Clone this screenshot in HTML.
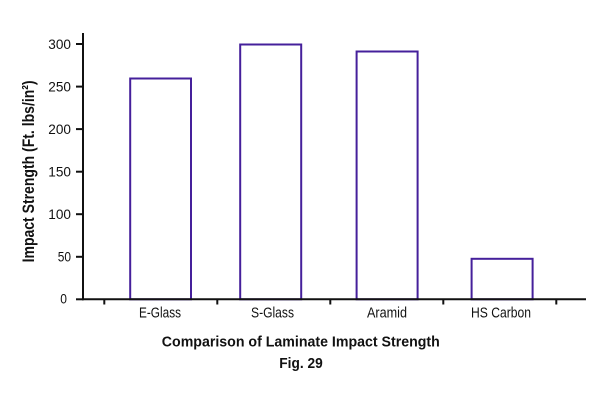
<!DOCTYPE html>
<html>
<head>
<meta charset="utf-8">
<style>
  html, body { margin: 0; padding: 0; background: #ffffff; }
  body { width: 600px; height: 400px; overflow: hidden; }
  svg { display: block; }
  text { font-family: "Liberation Sans", "DejaVu Sans", sans-serif; fill: #111; }
</style>
</head>
<body>
<svg width="600" height="400" viewBox="0 0 600 400" xmlns="http://www.w3.org/2000/svg">
  <rect x="0" y="0" width="600" height="400" fill="#ffffff"/>

  <!-- Bars -->
  <g fill="#ffffff" stroke="#45209b" stroke-width="2">
    <rect x="130.2" y="78.5" width="60.8" height="220.8"/>
    <rect x="240.2" y="44.5" width="61" height="254.8"/>
    <rect x="356.6" y="51.5" width="61" height="247.8"/>
    <rect x="471.6" y="258.8" width="61" height="40.5"/>
  </g>

  <!-- Axes -->
  <g stroke="#111" stroke-width="2" fill="none">
    <line x1="83" y1="33" x2="83" y2="300.3"/>
    <line x1="82" y1="299.3" x2="586" y2="299.3"/>
    <!-- y ticks -->
    <line x1="76" y1="44" x2="83" y2="44"/>
    <line x1="76" y1="86.6" x2="83" y2="86.6"/>
    <line x1="76" y1="129.1" x2="83" y2="129.1"/>
    <line x1="76" y1="171.7" x2="83" y2="171.7"/>
    <line x1="76" y1="214.2" x2="83" y2="214.2"/>
    <line x1="76" y1="256.8" x2="83" y2="256.8"/>
    <line x1="76" y1="299.3" x2="83" y2="299.3"/>
    <!-- x ticks -->
    <line x1="104.3" y1="299" x2="104.3" y2="304.5"/>
    <line x1="217.3" y1="299" x2="217.3" y2="304.5"/>
    <line x1="330.3" y1="299" x2="330.3" y2="304.5"/>
    <line x1="443.3" y1="299" x2="443.3" y2="304.5"/>
    <line x1="556.3" y1="299" x2="556.3" y2="304.5"/>
  </g>

  <!-- Y tick labels -->
  <g font-size="13.5" text-anchor="end">
    <text x="71" y="48.8" textLength="22.7" lengthAdjust="spacingAndGlyphs">300</text>
    <text x="71" y="91.4" textLength="22.7" lengthAdjust="spacingAndGlyphs">250</text>
    <text x="71" y="133.9" textLength="22.7" lengthAdjust="spacingAndGlyphs">200</text>
    <text x="71" y="176.5" textLength="22.7" lengthAdjust="spacingAndGlyphs">150</text>
    <text x="71" y="219" textLength="22.7" lengthAdjust="spacingAndGlyphs">100</text>
    <text x="71" y="261.6" textLength="13.3" lengthAdjust="spacingAndGlyphs">50</text>
    <text x="67" y="303.3" textLength="6.7" lengthAdjust="spacingAndGlyphs">0</text>
  </g>

  <!-- Category labels -->
  <g font-size="15" text-anchor="middle">
    <text x="160" y="317.3" textLength="42" lengthAdjust="spacingAndGlyphs">E-Glass</text>
    <text x="272.5" y="317.3" textLength="43" lengthAdjust="spacingAndGlyphs">S-Glass</text>
    <text x="387" y="317.3" textLength="40" lengthAdjust="spacingAndGlyphs">Aramid</text>
    <text x="501" y="317.3" textLength="60" lengthAdjust="spacingAndGlyphs">HS Carbon</text>
  </g>

  <!-- Y axis title -->
  <text transform="translate(34,171.4) rotate(-90)" text-anchor="middle" font-size="17" font-weight="bold" textLength="182" lengthAdjust="spacingAndGlyphs">Impact Strength (Ft. lbs/in²)</text>

  <!-- Chart titles -->
  <text x="300.8" y="346.3" text-anchor="middle" font-size="14.5" font-weight="bold" textLength="278" lengthAdjust="spacingAndGlyphs">Comparison of Laminate Impact Strength</text>
  <text x="301" y="367.8" text-anchor="middle" font-size="14.5" font-weight="bold" textLength="43.4" lengthAdjust="spacingAndGlyphs">Fig. 29</text>
</svg>
</body>
</html>
